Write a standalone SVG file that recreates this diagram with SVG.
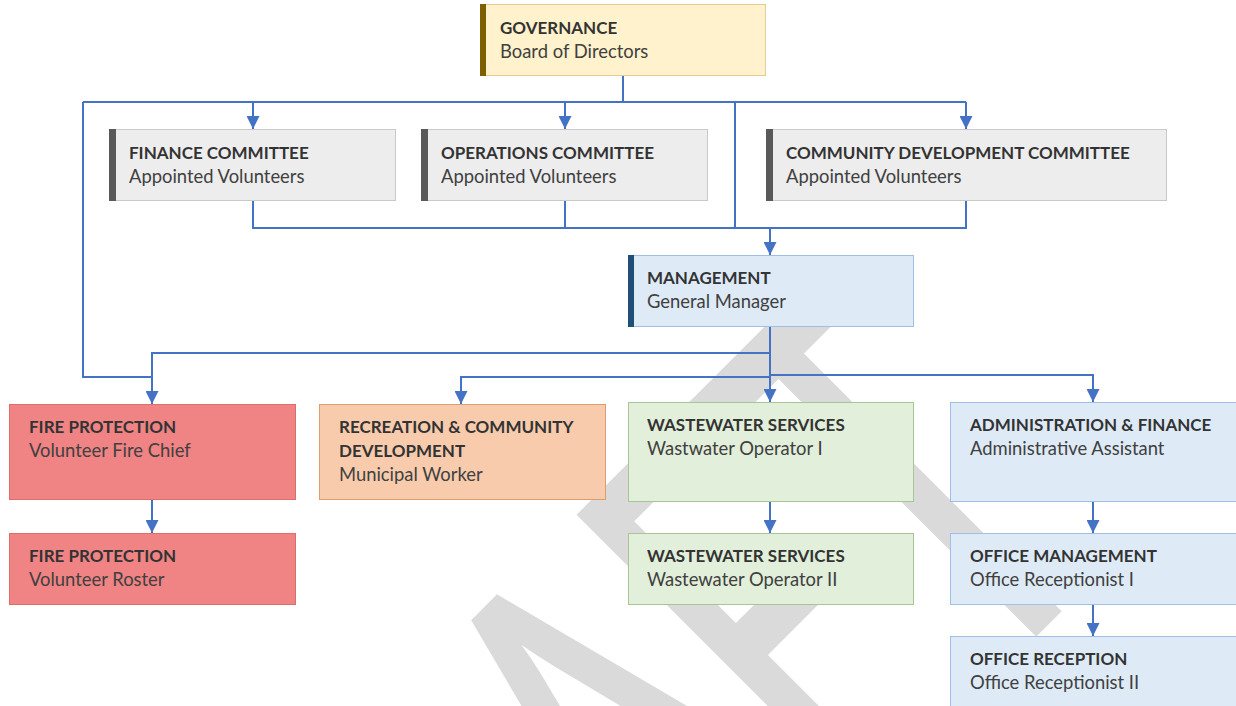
<svg xmlns="http://www.w3.org/2000/svg" width="1236" height="706" viewBox="0 0 1236 706">
<style>
.t{font-family:Lato,"Liberation Sans",sans-serif;font-size:17px;font-weight:700;fill:#333333}
.s{font-family:Lato,"Liberation Sans",sans-serif;font-size:18.4px;fill:#404040}
.c{fill:none;stroke:#4472c4;stroke-width:2}
.a{marker-end:url(#arr)}
.gov{fill:#fff2cc;stroke:#e3cf94;stroke-width:1}
.com{fill:#ededed;stroke:#c9c9c9;stroke-width:1}
.blu{fill:#deebf7;stroke:#9fc0e4;stroke-width:1}
.red{fill:#f08383;stroke:#e06c6c;stroke-width:1}
.org{fill:#f8cbad;stroke:#dc9d70;stroke-width:1}
.grn{fill:#e2efda;stroke:#a9c595;stroke-width:1}
.wm{font-family:Lato,"Liberation Sans",sans-serif;font-size:574px;fill:#dadada}
</style>
<defs>
<marker id="arr" markerUnits="userSpaceOnUse" markerWidth="13" markerHeight="13" viewBox="0 0 13 13" refX="13" refY="6.5" orient="auto">
<path d="M0,0 L13,6.5 L0,13 z" fill="#4472c4"/>
</marker>
</defs>
<rect width="1236" height="706" fill="#ffffff"/>
<g id="watermark">
<text class="wm" text-anchor="middle" transform="translate(836.5,836.5) rotate(-45) scale(0.65,1)" x="-889 -504 -134 177 462" y="0">DRAFT</text>
</g>
<g id="connectors">
<path class="c" d="M623,75 V102 M83,102 H966 M83,102 V377 H152 M735,102 V228 M253,200 V228 H966 V200 M565,200 V228"/>
<path class="c a" d="M253,102 V129"/>
<path class="c a" d="M565,102 V129"/>
<path class="c a" d="M966,102 V129"/>
<path class="c a" d="M770,228 V255"/>
<path class="c a" d="M770,326 V402"/>
<path class="c a" d="M770,353 H152 V404"/>
<path class="c a" d="M770,377 H461 V404"/>
<path class="c a" d="M770,375 H1093 V402"/>
<path class="c a" d="M152,499 V533"/>
<path class="c a" d="M770,501 V533"/>
<path class="c a" d="M1093,501 V533"/>
<path class="c a" d="M1093,604 V636"/>
</g>
<g id="governance">
<rect class="gov" x="480.5" y="4.5" width="285" height="71"/>
<rect x="480" y="4" width="6" height="72" fill="#7f6000"/>
<text class="t" x="500" y="34">GOVERNANCE</text>
<text class="s" x="500" y="58">Board of Directors</text>
</g>
<g id="finance-committee">
<rect class="com" x="109.5" y="129.5" width="286" height="71"/>
<rect x="109" y="129" width="7" height="72" fill="#595959"/>
<text class="t" x="129" y="159">FINANCE COMMITTEE</text>
<text class="s" x="129" y="183">Appointed Volunteers</text>
</g>
<g id="operations-committee">
<rect class="com" x="421.5" y="129.5" width="286" height="71"/>
<rect x="421" y="129" width="7" height="72" fill="#595959"/>
<text class="t" x="441" y="159">OPERATIONS COMMITTEE</text>
<text class="s" x="441" y="183">Appointed Volunteers</text>
</g>
<g id="community-development-committee">
<rect class="com" x="766.5" y="129.5" width="400" height="71"/>
<rect x="766" y="129" width="7" height="72" fill="#595959"/>
<text class="t" x="786" y="159">COMMUNITY DEVELOPMENT COMMITTEE</text>
<text class="s" x="786" y="183">Appointed Volunteers</text>
</g>
<g id="management">
<rect class="blu" x="628.5" y="255.5" width="285" height="71"/>
<rect x="628" y="255" width="6" height="72" fill="#1f4e79"/>
<text class="t" x="647" y="284">MANAGEMENT</text>
<text class="s" x="647" y="308">General Manager</text>
</g>
<g id="fire-chief">
<rect class="red" x="9.5" y="404.5" width="286" height="95"/>
<text class="t" x="29" y="433">FIRE PROTECTION</text>
<text class="s" x="29" y="457">Volunteer Fire Chief</text>
</g>
<g id="fire-roster">
<rect class="red" x="9.5" y="533.5" width="286" height="71"/>
<text class="t" x="29" y="562">FIRE PROTECTION</text>
<text class="s" x="29" y="586">Volunteer Roster</text>
</g>
<g id="recreation">
<rect class="org" x="319.5" y="404.5" width="286" height="95"/>
<text class="t" x="339" y="433">RECREATION &amp; COMMUNITY</text>
<text class="t" x="339" y="457">DEVELOPMENT</text>
<text class="s" x="339" y="481">Municipal Worker</text>
</g>
<g id="wastewater-1">
<rect class="grn" x="628.5" y="402.5" width="285" height="99"/>
<text class="t" x="647" y="431">WASTEWATER SERVICES</text>
<text class="s" x="647" y="455">Wastwater Operator I</text>
</g>
<g id="wastewater-2">
<rect class="grn" x="628.5" y="533.5" width="285" height="71"/>
<text class="t" x="647" y="562">WASTEWATER SERVICES</text>
<text class="s" x="647" y="586">Wastewater Operator II</text>
</g>
<g id="admin-finance">
<rect class="blu" x="950.5" y="402.5" width="286" height="99"/>
<text class="t" x="970" y="431">ADMINISTRATION &amp; FINANCE</text>
<text class="s" x="970" y="455">Administrative Assistant</text>
</g>
<g id="office-management">
<rect class="blu" x="950.5" y="533.5" width="286" height="71"/>
<text class="t" x="970" y="562">OFFICE MANAGEMENT</text>
<text class="s" x="970" y="586">Office Receptionist I</text>
</g>
<g id="office-reception">
<rect class="blu" x="950.5" y="636.5" width="286" height="71"/>
<text class="t" x="970" y="665">OFFICE RECEPTION</text>
<text class="s" x="970" y="689">Office Receptionist II</text>
</g>
</svg>
